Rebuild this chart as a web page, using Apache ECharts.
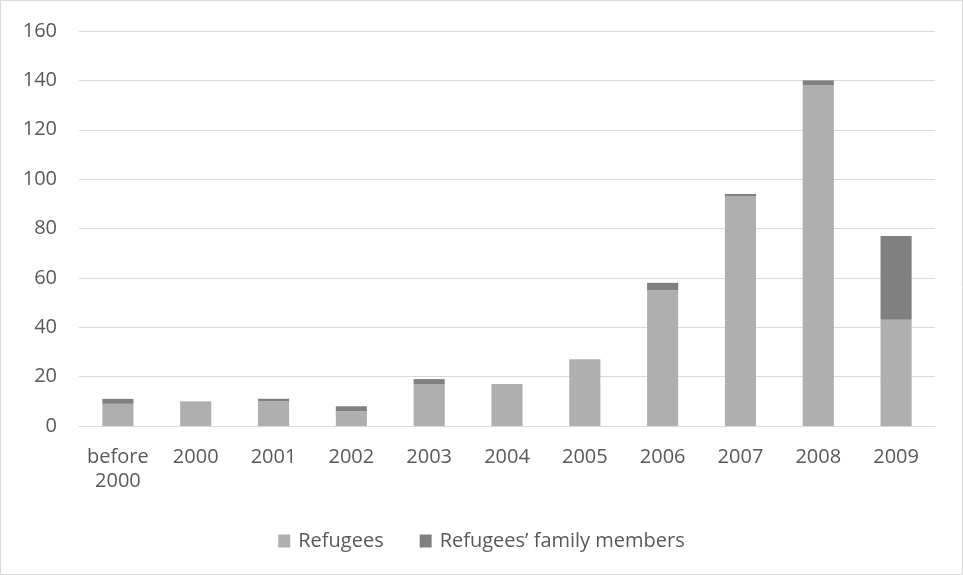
<!DOCTYPE html>
<html>
<head>
<meta charset="utf-8">
<script src="https://cdn.jsdelivr.net/npm/echarts@6/dist/echarts.min.js"></script>
<style>
  html, body { margin: 0; padding: 0; background: #fff; }
  #chart { width: 963px; height: 575px; }
</style>
</head>
<body>
<div id="chart"></div>
<script>
// Annual arrivals, stacked: refugees and their family members
const categories = ['before\n2000', '2000', '2001', '2002', '2003', '2004', '2005', '2006', '2007', '2008', '2009'];
const refugees = [9, 10, 10, 6, 17, 17, 27, 55, 93, 138, 43];
const familyMembers = [2, 0, 1, 2, 2, 0, 0, 3, 1, 2, 34];
const yTicks = { min: 0, max: 160, interval: 20 };

const textColor = '#595959';
const font = 'Open Sans, Liberation Sans, sans-serif';
const fontSize = 20;

const chart = echarts.init(document.getElementById('chart'));
chart.setOption({
  animation: false,
  textStyle: { fontFamily: font, color: textColor },
  graphic: [{
    type: 'rect',
    shape: { x: 0.5, y: 0.5, width: 962, height: 574 },
    style: { fill: 'none', stroke: '#d9d9d9', lineWidth: 1 }
  }],
  grid: { left: 79, right: 28, top: 31, bottom: 149 },
  legend: {
    top: 526,
    left: 'center',
    itemWidth: 12,
    itemHeight: 13,
    itemGap: 36,
    icon: 'rect',
    textStyle: { fontFamily: font, fontSize: fontSize, color: textColor, padding: [0, 0, 0, 3] },
    data: ['Refugees', 'Refugees\u2019 family members']
  },
  xAxis: {
    type: 'category',
    data: categories,
    axisLine: { lineStyle: { color: '#d9d9d9', width: 1 } },
    axisTick: { show: false },
    axisLabel: { interval: 0, fontFamily: font, fontSize: fontSize, color: textColor, margin: 19, lineHeight: 24 }
  },
  yAxis: {
    type: 'value',
    min: yTicks.min,
    max: yTicks.max,
    interval: yTicks.interval,
    axisLine: { show: false },
    axisTick: { show: false },
    splitLine: { lineStyle: { color: '#d9d9d9', width: 1 } },
    axisLabel: { fontFamily: font, fontSize: fontSize, color: textColor, margin: 22 }
  },
  series: [
    {
      name: 'Refugees',
      type: 'bar',
      stack: 'total',
      data: refugees,
      barWidth: '40%',
      itemStyle: { color: '#afafaf' }
    },
    {
      name: 'Refugees\u2019 family members',
      type: 'bar',
      stack: 'total',
      data: familyMembers,
      barWidth: '40%',
      itemStyle: { color: '#808080' }
    }
  ]
});
</script>
</body>
</html>
